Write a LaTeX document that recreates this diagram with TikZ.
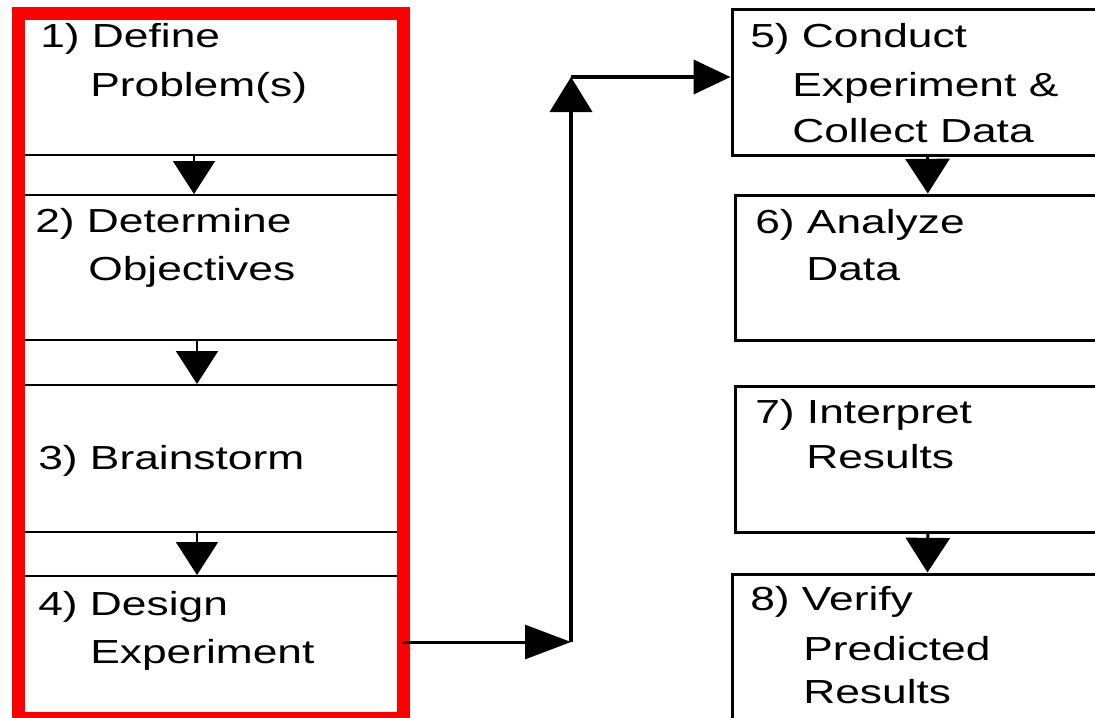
\documentclass[tikz,border=0pt]{standalone}
\usepackage{fontspec}
\setmainfont{Liberation Sans}[FakeStretch=1.33]
\usetikzlibrary{arrows.meta,calc}

\tikzset{
  leftbox/.style={draw=black, line width=1.5pt, rectangle, inner sep=0pt},
  rightbox/.style={draw=black, line width=2.25pt, rectangle, inner sep=0pt},
  redframe/.style={draw=red, line width=9.75pt},
  stepflow/.style={draw=black, line width=1.5pt,
    -{Triangle[length=24.75pt,width=31.5pt]}},
  lbl/.style={anchor=base west, inner sep=0pt, font=\fontsize{25pt}{30pt}\selectfont}
}

\begin{document}
\begin{tikzpicture}[x=0.75pt, y=-0.75pt]
  \useasboundingbox (0,0) rectangle (1095,717);
  \clip (0,0) rectangle (1095,717);
  \fill[white] (0,0) rectangle (1095,717);

  % ---- left column: planning stages ----
  \node[leftbox, minimum width=286.5pt, minimum height=105.75pt] (b1) at (211,84.5) {};
  \node[leftbox, minimum width=286.5pt, minimum height=108.75pt] (b2) at (211,267.5) {};
  \node[leftbox, minimum width=286.5pt, minimum height=110.25pt] (b3) at (211,458.5) {};
  \node[leftbox, minimum width=286.5pt, minimum height=104.25pt] (b4) at (211,645.5) {};

  \draw[stepflow] ($(b1.south west)+(175,0)$) -- ($(b2.north west)+(175,0)$);
  \draw[stepflow] ($(b2.south west)+(178,0)$) -- ($(b3.north west)+(178,0)$);
  \draw[stepflow] ($(b3.south west)+(178,0)$) -- ($(b4.north west)+(178,0)$);

  % red frame around stages 1-4
  \draw[redframe] (18.5,13.5) rectangle (403.5,718.5);

  \node[lbl] (t1a) at (40,48)  {1) Define};
  \node[lbl] (t1b) at (90,97)  {Problem(s)};
  \node[lbl] (t2a) at (35,232) {2) Determine};
  \node[lbl] (t2b) at (88,280) {Objectives};
  \node[lbl] (t3a) at (38,469) {3) Brainstorm};
  \node[lbl] (t4a) at (38,615) {4) Design};
  \node[lbl] (t4b) at (90,663) {Experiment};

  % ---- right column: execution stages ----
  \node[rightbox, minimum width=294pt, minimum height=108.75pt] (b5) at (928,82.5) {};
  \node[rightbox, minimum width=292pt, minimum height=108.75pt] (b6) at (930,267.5) {};
  \node[rightbox, minimum width=292pt, minimum height=109.5pt] (b7) at (930,459) {};
  \node[rightbox, minimum width=294pt, minimum height=120pt] (b8) at (928,654) {};

  \draw[stepflow, line width=2.25pt, -{Triangle[length=26pt,width=33pt]}]
    ($(b5.south west)+(197,0)$) -- ($(b6.north west)+(194,0)$);
  \draw[stepflow, line width=2.25pt, -{Triangle[length=26pt,width=33pt]}]
    ($(b7.south west)+(194,0)$) -- ($(b8.north west)+(197,0)$);

  \node[lbl] (t5a) at (750,48)  {5) Conduct};
  \node[lbl] (t5b) at (792,97)  {Experiment \&};
  \node[lbl] (t5c) at (792,142) {Collect Data};
  \node[lbl] (t6a) at (755,233) {6) Analyze};
  \node[lbl] (t6b) at (806,280) {Data};
  \node[lbl] (t7a) at (755,423) {7) Interpret};
  \node[lbl] (t7b) at (806,468) {Results};
  \node[lbl] (t8a) at (750,610) {8) Verify};
  \node[lbl] (t8b) at (803,660) {Predicted};
  \node[lbl] (t8c) at (803,703) {Results};

  % ---- connector from stage 4 to stage 5 ----
  \coordinate (j1) at (571,642);
  \coordinate (j2) at (571,77);
  \draw[line width=2.25pt, -{Triangle[length=34.5pt,width=25.5pt]}]
    (b4.east |- j1) -- (j1);
  \draw[line width=3pt, -{Triangle[length=26.25pt,width=31.5pt]}]
    (j1) -- (j2);
  \draw[line width=3pt, -{Triangle[length=27.75pt,width=25.5pt]}]
    (j2) -- (b5.west |- j2);
\end{tikzpicture}
\end{document}
